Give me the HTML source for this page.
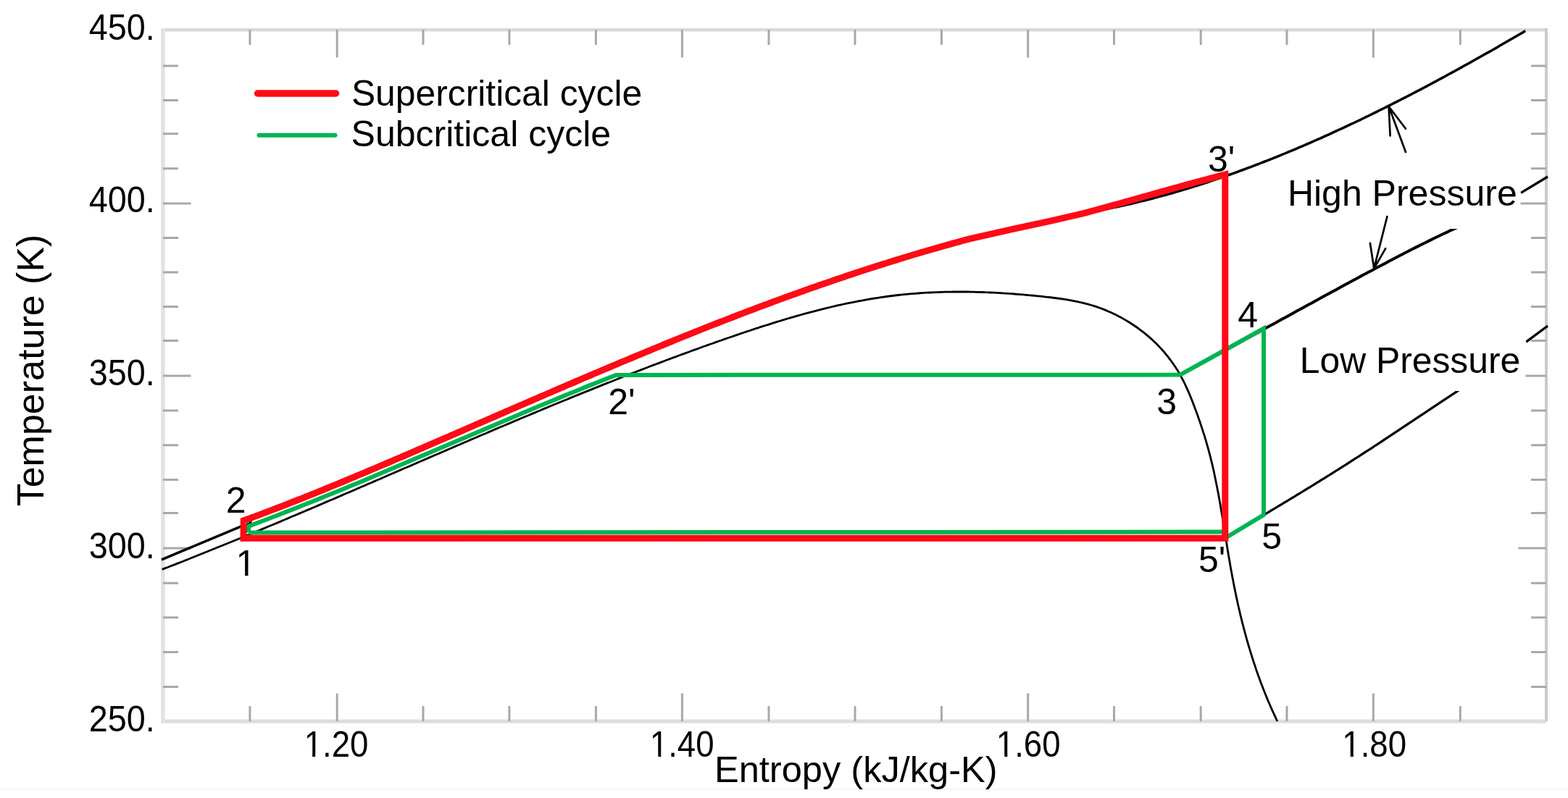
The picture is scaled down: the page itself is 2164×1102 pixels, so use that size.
<!DOCTYPE html>
<html><head><meta charset="utf-8"><title>T-s diagram</title>
<style>html,body{margin:0;padding:0;background:#fff;}body{width:2164px;height:1102px;overflow:hidden;}svg{display:block;}</style>
</head><body>
<div id="c"><svg width="2164" height="1102" viewBox="0 0 2164 1102">
<rect x="0" y="0" width="2164" height="1102" fill="#ffffff"/>
<line x1="0" y1="1090" x2="2164" y2="1090" stroke="#f6f6f6" stroke-width="2"/>
<path d="M222.3,41.3 H2136" stroke="#dadada" stroke-width="4.6" fill="none"/>
<path d="M222.3,996.1 H2134" stroke="#dedede" stroke-width="5.2" fill="none"/>
<path d="M224.9,39 V998.7" stroke="#e2e2e2" stroke-width="5.4" fill="none"/>
<path d="M2134,39 V996" stroke="#cbcbcb" stroke-width="4" fill="none"/>
<path d="M344.9,996v-21M344.9,41v21M465.2,996v-38.5M465.2,41v38.5M584.0,996v-21M584.0,41v21M702.9,996v-21M702.9,41v21M822.4,996v-21M822.4,41v21M941.4,996v-38.5M941.4,41v38.5M1061.0,996v-21M1061.0,41v21M1180.0,996v-21M1180.0,41v21M1299.4,996v-21M1299.4,41v21M1418.7,996v-38.5M1418.7,41v38.5M1537.5,996v-21M1537.5,41v21M1657.2,996v-21M1657.2,41v21M1776.0,996v-21M1776.0,41v21M1895.3,996v-38.5M1895.3,41v38.5M2015.3,996v-21M2015.3,41v21M225,90.9h21M2134,90.9h-21M225,138.6h21M2134,138.6h-21M225,184.8h21M2134,184.8h-21M225,232.8h21M2134,232.8h-21M225,281.0h38.5M2134,281.0h-38.5M225,328.5h21M2134,328.5h-21M225,376.0h21M2134,376.0h-21M225,423.5h21M2134,423.5h-21M225,470.6h21M2134,470.6h-21M225,519.0h38.5M2134,519.0h-38.5M225,567.0h21M2134,567.0h-21M225,614.8h21M2134,614.8h-21M225,662.6h21M2134,662.6h-21M225,708.6h21M2134,708.6h-21M225,757.0h38.5M2134,757.0h-38.5M225,805.2h21M2134,805.2h-21M225,852.8h21M2134,852.8h-21M225,900.6h21M2134,900.6h-21M225,948.6h21M2134,948.6h-21" stroke="#a8a8a8" stroke-width="3.0" fill="none"/>
<path d="M223.7,786.4 L227.4,784.9 L231.2,783.5 L234.9,782.0 L238.6,780.6 L242.4,779.1 L246.1,777.6 L249.8,776.2 L253.6,774.7 L257.3,773.2 L261.0,771.8 L264.7,770.3 L268.5,768.8 L272.2,767.3 L275.9,765.8 L279.6,764.3 L283.4,762.8 L287.1,761.3 L290.8,759.8 L294.5,758.3 L298.2,756.8 L301.9,755.3 L305.7,753.8 L309.4,752.3 L313.1,750.8 L316.8,749.3 L320.5,747.8 L324.2,746.2 L327.9,744.7 L331.6,743.2 L335.3,741.7 L339.1,740.1 L342.8,738.6 L346.5,737.1 L350.2,735.5 L353.9,734.0 L357.6,732.5 L361.3,730.9 L365.0,729.4 L368.7,727.8 L372.4,726.3 L376.1,724.7 L379.8,723.2 L383.5,721.6 L387.2,720.1 L390.9,718.5 L394.6,717.0 L398.3,715.4 L401.9,713.8 L405.6,712.3 L409.3,710.7 L413.0,709.1 L416.7,707.6 L420.4,706.0 L424.1,704.4 L427.8,702.9 L431.5,701.3 L435.2,699.7 L438.9,698.1 L442.5,696.6 L446.2,695.0 L449.9,693.4 L453.6,691.8 L457.3,690.3 L461.0,688.7 L464.7,687.1 L468.4,685.5 L472.0,683.9 L475.7,682.3 L479.4,680.8 L483.1,679.2 L486.8,677.6 L490.5,676.0 L494.1,674.4 L497.8,672.8 L501.5,671.2 L505.2,669.6 L508.9,668.0 L512.6,666.5 L516.2,664.9 L519.9,663.3 L523.6,661.7 L527.3,660.1 L531.0,658.5 L534.7,656.9 L538.3,655.3 L542.0,653.7 L545.7,652.1 L549.4,650.5 L553.1,648.9 L556.7,647.3 L560.4,645.8 L564.1,644.2 L567.8,642.6 L571.5,641.0 L575.2,639.4 L578.8,637.8 L582.5,636.2 L586.2,634.6 L589.9,633.0 L593.6,631.4 L597.3,629.8 L600.9,628.2 L604.6,626.7 L608.3,625.1 L612.0,623.5 L615.7,621.9 L619.4,620.3 L623.0,618.7 L626.7,617.1 L630.4,615.5 L634.1,614.0 L637.8,612.4 L641.5,610.8 L645.2,609.2 L648.8,607.6 L652.5,606.0 L656.2,604.5 L659.9,602.9 L663.6,601.3 L667.3,599.7 L671.0,598.2 L674.7,596.6 L678.4,595.0 L682.0,593.4 L685.7,591.9 L689.4,590.3 L693.1,588.7 L696.8,587.2 L700.5,585.6 L704.2,584.1 L707.9,582.5 L711.6,580.9 L715.3,579.4 L719.0,577.8 L722.7,576.3 L726.4,574.7 L730.1,573.2 L733.8,571.6 L737.5,570.1 L741.2,568.5 L744.9,567.0 L748.6,565.4 L752.3,563.9 L756.0,562.4 L759.7,560.8 L763.4,559.3 L767.1,557.8 L770.8,556.2 L774.5,554.7 L778.2,553.2 L782.0,551.7 L785.7,550.1 L789.4,548.6 L793.1,547.1 L796.8,545.6 L800.5,544.1 L804.2,542.6 L808.0,541.1 L811.7,539.6 L815.4,538.1 L819.1,536.6 L822.8,535.1 L826.6,533.6 L830.3,532.1 L834.0,530.6 L837.7,529.1 L841.5,527.7 L845.2,526.2 L848.9,524.7 L852.6,523.2 L856.4,521.8 L860.1,520.3 L863.8,518.8 L867.6,517.4 L871.3,515.9 L875.0,514.5 L878.8,513.0 L882.5,511.6 L886.3,510.1 L890.0,508.7 L893.8,507.3 L897.5,505.8 L901.3,504.4 L905.0,503.0 L908.7,501.6 L912.5,500.1 L916.3,498.7 L920.0,497.3 L923.8,495.9 L927.5,494.5 L931.3,493.1 L935.0,491.7 L938.8,490.3 L942.6,488.9 L946.3,487.6 L950.1,486.2 L953.9,484.8 L957.6,483.4 L961.4,482.1 L965.2,480.7 L968.9,479.3 L972.7,478.0 L976.5,476.6 L980.3,475.3 L984.1,474.0 L987.8,472.6 L991.6,471.3 L995.4,470.0 L999.2,468.6 L1003.0,467.3 L1006.8,466.0 L1010.6,464.7 L1014.4,463.4 L1018.2,462.1 L1022.0,460.8 L1025.8,459.5 L1029.6,458.2 L1033.4,457.0 L1037.2,455.7 L1041.0,454.4 L1044.8,453.2 L1048.6,451.9 L1052.4,450.7 L1056.3,449.5 L1060.1,448.3 L1063.9,447.1 L1067.7,445.9 L1071.6,444.7 L1075.4,443.5 L1079.2,442.3 L1083.1,441.2 L1086.9,440.0 L1090.7,438.9 L1094.6,437.8 L1098.4,436.7 L1102.3,435.6 L1106.1,434.5 L1110.0,433.4 L1113.9,432.4 L1117.7,431.3 L1121.6,430.3 L1125.5,429.3 L1129.3,428.3 L1133.2,427.3 L1137.1,426.3 L1141.0,425.4 L1144.9,424.5 L1148.7,423.5 L1152.6,422.6 L1156.5,421.7 L1160.4,420.9 L1164.3,420.0 L1168.2,419.2 L1172.2,418.4 L1176.1,417.6 L1180.0,416.8 L1183.9,416.0 L1187.8,415.3 L1191.8,414.6 L1195.7,413.9 L1199.6,413.2 L1203.6,412.5 L1207.5,411.9 L1211.5,411.3 L1215.4,410.7 L1219.4,410.1 L1223.4,409.5 L1227.3,409.0 L1231.3,408.5 L1235.3,408.0 L1239.3,407.5 L1243.2,407.1 L1247.2,406.7 L1251.2,406.3 L1255.2,405.9 L1259.2,405.6 L1263.2,405.3 L1267.2,405.0 L1271.3,404.7 L1275.3,404.4 L1279.3,404.2 L1283.3,404.0 L1287.3,403.8 L1291.4,403.6 L1295.4,403.5 L1299.4,403.3 L1303.4,403.2 L1307.5,403.1 L1311.5,403.1 L1315.6,403.0 L1319.6,403.0 L1323.6,403.0 L1327.7,403.0 L1331.7,403.0 L1335.7,403.0 L1339.8,403.1 L1343.8,403.2 L1347.8,403.3 L1351.9,403.4 L1355.9,403.5 L1360.0,403.7 L1364.0,403.8 L1368.0,404.0 L1372.0,404.2 L1376.1,404.4 L1380.1,404.6 L1384.1,404.9 L1388.1,405.1 L1392.2,405.4 L1396.2,405.7 L1400.2,406.0 L1404.2,406.3 L1408.2,406.6 L1412.2,406.9 L1416.2,407.3 L1420.2,407.7 L1424.2,408.0 L1428.2,408.4 L1432.1,408.8 L1436.1,409.2 L1440.1,409.6 L1444.0,410.1 L1448.0,410.5 L1451.9,411.0 L1455.9,411.5 L1459.8,412.0 L1463.8,412.5 L1467.7,413.1 L1471.6,413.7 L1475.5,414.4 L1479.4,415.1 L1483.3,415.8 L1487.2,416.6 L1491.0,417.5 L1494.9,418.4 L1498.7,419.3 L1502.6,420.4 L1506.4,421.5 L1510.2,422.6 L1514.0,423.9 L1517.8,425.2 L1521.6,426.6 L1525.3,428.1 L1529.0,429.7 L1532.7,431.3 L1536.4,433.0 L1540.1,434.8 L1543.7,436.7 L1547.3,438.6 L1550.9,440.6 L1554.4,442.6 L1557.9,444.8 L1561.4,447.0 L1564.8,449.2 L1568.2,451.5 L1571.5,453.9 L1574.7,456.3 L1578.0,458.8 L1581.1,461.4 L1584.2,463.9 L1587.3,466.6 L1590.3,469.3 L1593.2,472.0 L1596.1,474.8 L1598.9,477.7 L1601.6,480.6 L1604.3,483.5 L1606.9,486.5 L1609.4,489.6 L1611.9,492.6 L1614.3,495.8 L1616.7,499.0 L1619.0,502.2 L1621.2,505.5 L1623.4,508.8 L1625.5,512.1 L1627.5,515.5 L1629.4,519.0 L1631.3,522.5 L1633.2,526.0 L1634.9,529.5 L1636.6,533.1 L1638.3,536.8 L1639.9,540.4 L1641.5,544.1 L1643.0,547.8 L1644.5,551.5 L1646.0,555.3 L1647.4,559.0 L1648.8,562.8 L1650.2,566.6 L1651.6,570.3 L1653.0,574.1 L1654.3,577.9 L1655.7,581.7 L1657.0,585.6 L1658.2,589.4 L1659.5,593.2 L1660.7,597.1 L1662.0,600.9 L1663.1,604.7 L1664.3,608.6 L1665.4,612.5 L1666.5,616.3 L1667.6,620.2 L1668.6,624.1 L1669.7,628.0 L1670.7,631.9 L1671.6,635.8 L1672.6,639.7 L1673.5,643.6 L1674.4,647.5 L1675.3,651.4 L1676.1,655.3 L1676.9,659.2 L1677.7,663.1 L1678.5,667.0 L1679.3,671.0 L1680.1,674.9 L1680.8,678.8 L1681.6,682.8 L1682.3,686.7 L1683.0,690.7 L1683.7,694.6 L1684.4,698.5 L1685.0,702.5 L1685.7,706.4 L1686.4,710.4 L1687.0,714.3 L1687.7,718.3 L1688.3,722.2 L1688.9,726.2 L1689.6,730.2 L1690.2,734.1 L1690.9,738.1 L1691.5,742.0 L1692.1,746.0 L1692.8,749.9 L1693.4,753.9 L1694.0,757.9 L1694.7,761.8 L1695.3,765.8 L1696.0,769.7 L1696.7,773.7 L1697.4,777.6 L1698.0,781.6 L1698.7,785.5 L1699.5,789.5 L1700.2,793.4 L1700.9,797.4 L1701.7,801.3 L1702.4,805.2 L1703.2,809.2 L1704.0,813.1 L1704.8,817.0 L1705.6,821.0 L1706.4,824.9 L1707.3,828.8 L1708.1,832.7 L1709.0,836.7 L1709.9,840.6 L1710.8,844.5 L1711.7,848.4 L1712.7,852.3 L1713.6,856.2 L1714.6,860.1 L1715.6,863.9 L1716.6,867.8 L1717.6,871.7 L1718.7,875.6 L1719.7,879.4 L1720.8,883.3 L1721.9,887.2 L1723.0,891.0 L1724.2,894.9 L1725.3,898.7 L1726.5,902.5 L1727.7,906.4 L1728.9,910.2 L1730.1,914.0 L1731.4,917.8 L1732.7,921.6 L1733.9,925.4 L1735.3,929.2 L1736.6,933.0 L1738.0,936.7 L1739.3,940.5 L1740.7,944.3 L1742.2,948.0 L1743.6,951.8 L1745.1,955.5 L1746.6,959.2 L1748.1,962.9 L1749.6,966.6 L1751.2,970.3 L1752.8,974.0 L1754.4,977.7 L1756.0,981.4 L1757.7,985.0 L1759.4,988.7 L1761.1,992.3 L1762.8,996.0" stroke="#000" stroke-width="2.8" fill="none" stroke-linejoin="round"/>
<path d="M223.0,772.8 L331.6,727.4 L345.0,723.0 L347.5,714.8 L351.3,713.4 L355.1,712.0 L358.8,710.6 L362.6,709.1 L366.4,707.7 L370.2,706.3 L373.9,704.9 L377.7,703.4 L381.4,702.0 L385.2,700.5 L389.0,699.1 L392.7,697.6 L396.5,696.2 L400.2,694.7 L404.0,693.2 L407.7,691.8 L411.5,690.3 L415.2,688.8 L418.9,687.3 L422.7,685.8 L426.4,684.3 L430.2,682.8 L433.9,681.3 L437.6,679.8 L441.4,678.3 L445.1,676.8 L448.8,675.2 L452.6,673.7 L456.3,672.2 L460.0,670.7 L463.7,669.1 L467.5,667.6 L471.2,666.0 L474.9,664.5 L478.6,663.0 L482.3,661.4 L486.0,659.9 L489.8,658.3 L493.5,656.7 L497.2,655.2 L500.9,653.6 L504.6,652.1 L508.3,650.5 L512.0,648.9 L515.8,647.4 L519.5,645.8 L523.2,644.2 L526.9,642.6 L530.6,641.1 L534.3,639.5 L538.0,637.9 L541.7,636.3 L545.4,634.7 L549.1,633.2 L552.8,631.6 L556.5,630.0 L560.2,628.4 L563.9,626.8 L567.6,625.2 L571.3,623.6 L575.0,622.0 L578.7,620.4 L582.4,618.8 L586.1,617.2 L589.8,615.6 L593.5,614.0 L597.2,612.4 L600.9,610.8 L604.6,609.2 L608.3,607.6 L612.0,606.0 L615.7,604.4 L619.4,602.8 L623.1,601.2 L626.8,599.6 L630.5,598.0 L634.2,596.4 L637.9,594.8 L641.6,593.2 L645.3,591.5 L649.0,589.9 L652.6,588.3 L656.3,586.7 L660.0,585.1 L663.7,583.5 L667.4,581.9 L671.1,580.3 L674.8,578.7 L678.5,577.1 L682.2,575.5 L685.9,573.9 L689.6,572.2 L693.3,570.6 L697.0,569.0 L700.7,567.4 L704.4,565.8 L708.1,564.2 L711.8,562.6 L715.5,561.0 L719.2,559.4 L722.9,557.8 L726.6,556.2 L730.3,554.6 L734.0,553.0 L737.7,551.4 L741.4,549.8 L745.1,548.2 L748.8,546.6 L752.4,545.0 L756.2,543.4 L759.9,541.8 L763.6,540.2 L767.3,538.6 L771.0,537.0 L774.7,535.4 L778.4,533.8 L782.1,532.2 L785.8,530.7 L789.5,529.1 L793.2,527.5 L796.9,525.9 L800.6,524.3 L804.3,522.7 L808.0,521.2 L811.7,519.6 L815.4,518.0 L819.1,516.4 L822.8,514.9 L826.5,513.3 L830.3,511.7 L834.0,510.1 L837.7,508.6 L841.4,507.0 L845.1,505.4 L848.8,503.9 L852.5,502.3 L856.2,500.7 L860.0,499.2 L863.7,497.6 L867.4,496.1 L871.1,494.5 L874.8,493.0 L878.5,491.4 L882.3,489.9 L886.0,488.3 L889.7,486.8 L893.4,485.2 L897.2,483.7 L900.9,482.2 L904.6,480.6 L908.3,479.1 L912.1,477.6 L915.8,476.0 L919.5,474.5 L923.2,473.0 L927.0,471.5 L930.7,469.9 L934.4,468.4 L938.2,466.9 L941.9,465.4 L945.6,463.9 L949.4,462.4 L953.1,460.9 L956.9,459.4 L960.6,457.9 L964.3,456.4 L968.1,454.9 L971.8,453.4 L975.6,451.9 L979.3,450.4 L983.1,448.9 L986.8,447.5 L990.6,446.0 L994.3,444.5 L998.1,443.1 L1001.8,441.6 L1005.6,440.1 L1009.3,438.7 L1013.1,437.2 L1016.8,435.8 L1020.6,434.3 L1024.4,432.9 L1028.1,431.4 L1031.9,430.0 L1035.7,428.6 L1039.4,427.2 L1043.2,425.7 L1047.0,424.3 L1050.7,422.9 L1054.5,421.5 L1058.3,420.1 L1062.1,418.7 L1065.8,417.3 L1069.6,415.9 L1073.4,414.5 L1077.2,413.1 L1081.0,411.7 L1084.7,410.3 L1088.5,409.0 L1092.3,407.6 L1096.1,406.2 L1099.9,404.9 L1103.7,403.5 L1107.5,402.2 L1111.3,400.8 L1115.1,399.5 L1118.9,398.1 L1122.7,396.8 L1126.5,395.5 L1130.3,394.1 L1134.1,392.8 L1137.9,391.5 L1141.7,390.2 L1145.5,388.9 L1149.3,387.6 L1153.1,386.3 L1156.9,385.0 L1160.8,383.7 L1164.6,382.4 L1168.4,381.1 L1172.2,379.8 L1176.0,378.6 L1179.9,377.3 L1183.7,376.0 L1187.5,374.8 L1191.3,373.5 L1195.2,372.3 L1199.0,371.0 L1202.8,369.8 L1206.7,368.6 L1210.5,367.3 L1214.4,366.1 L1218.2,364.9 L1222.0,363.7 L1225.9,362.5 L1229.7,361.3 L1233.6,360.1 L1237.4,358.9 L1241.3,357.7 L1245.1,356.5 L1249.0,355.3 L1252.8,354.2 L1256.7,353.0 L1260.6,351.8 L1264.4,350.7 L1268.3,349.5 L1272.1,348.4 L1276.0,347.3 L1279.9,346.1 L1283.8,345.0 L1287.6,343.9 L1291.5,342.8 L1295.4,341.7 L1299.2,340.6 L1303.1,339.5 L1307.0,338.4 L1310.9,337.3 L1314.8,336.2 L1318.7,335.1 L1322.6,334.1 L1326.4,333.0 L1330.3,331.9 L1334.2,330.9 L1338.1,329.8 L1400.0,315.8 L1450.0,305.2 L1490.0,295.9 L1495.2,294.6 L1500.0,293.7 L1504.0,293.0 L1508.0,292.3 L1512.0,291.6 L1515.9,290.8 L1519.9,290.1 L1523.9,289.3 L1527.9,288.5 L1531.8,287.7 L1535.8,286.9 L1539.8,286.1 L1543.7,285.2 L1547.7,284.4 L1551.6,283.5 L1555.6,282.6 L1559.5,281.7 L1563.5,280.8 L1567.4,279.8 L1571.3,278.9 L1575.3,277.9 L1579.2,277.0 L1583.1,276.0 L1587.0,275.0 L1590.9,274.0 L1594.8,272.9 L1598.7,271.9 L1602.6,270.8 L1606.5,269.8 L1610.4,268.7 L1614.3,267.6 L1618.2,266.5 L1622.1,265.4 L1625.9,264.2 L1629.8,263.1 L1633.7,261.9 L1637.5,260.8 L1641.4,259.6 L1645.3,258.4 L1649.1,257.2 L1653.0,256.0 L1656.8,254.8 L1660.7,253.5 L1664.5,252.3 L1668.3,251.0 L1672.2,249.7 L1676.0,248.4 L1679.8,247.2 L1683.6,245.8 L1687.5,244.5 L1691.3,243.2 L1695.1,241.9 L1698.9,240.5 L1702.7,239.2 L1706.5,237.8 L1710.3,236.4 L1714.1,235.0 L1717.9,233.6 L1721.7,232.2 L1725.4,230.8 L1729.2,229.4 L1733.0,227.9 L1736.8,226.5 L1740.5,225.0 L1744.3,223.5 L1748.1,222.1 L1751.8,220.6 L1755.6,219.1 L1759.3,217.6 L1763.1,216.1 L1766.8,214.6 L1770.6,213.0 L1774.3,211.5 L1778.0,209.9 L1781.8,208.4 L1785.5,206.8 L1789.2,205.3 L1792.9,203.7 L1796.7,202.1 L1800.4,200.5 L1804.1,198.9 L1807.8,197.3 L1811.5,195.7 L1815.2,194.0 L1818.9,192.4 L1822.6,190.8 L1826.3,189.1 L1830.0,187.4 L1833.7,185.8 L1837.3,184.1 L1841.0,182.4 L1844.7,180.7 L1848.4,179.0 L1852.0,177.3 L1855.7,175.6 L1859.4,173.9 L1863.0,172.2 L1866.7,170.5 L1870.4,168.7 L1874.0,167.0 L1877.7,165.3 L1881.3,163.5 L1884.9,161.7 L1888.6,160.0 L1892.2,158.2 L1895.9,156.4 L1899.5,154.6 L1903.1,152.8 L1906.7,151.0 L1910.4,149.2 L1914.0,147.4 L1917.6,145.6 L1921.2,143.8 L1924.8,141.9 L1928.4,140.1 L1932.0,138.3 L1935.6,136.4 L1939.2,134.6 L1942.8,132.7 L1946.4,130.9 L1950.0,129.0 L1953.6,127.1 L1957.2,125.2 L1960.8,123.4 L1964.3,121.5 L1967.9,119.6 L1971.5,117.7 L1975.1,115.8 L1978.6,113.9 L1982.2,112.0 L1985.7,110.0 L1989.3,108.1 L1992.9,106.2 L1996.4,104.3 L2000.0,102.3 L2003.5,100.4 L2007.1,98.5 L2010.6,96.5 L2014.1,94.6 L2017.7,92.6 L2021.2,90.6 L2024.7,88.7 L2028.3,86.7 L2031.8,84.7 L2035.3,82.8 L2038.8,80.8 L2042.4,78.8 L2045.9,76.8 L2049.4,74.8 L2052.9,72.9 L2056.4,70.9 L2059.9,68.9 L2063.4,66.9 L2066.9,64.9 L2070.4,62.8 L2073.9,60.8 L2077.4,58.8 L2080.9,56.8 L2084.4,54.8 L2087.9,52.8 L2091.3,50.7 L2094.8,48.7 L2098.3,46.7 L2101.8,44.7 L2105.2,42.6" stroke="#000" stroke-width="3.5" fill="none" stroke-linejoin="round"/>
<path d="M1628.6,517.4 L1632.2,515.5 L1635.8,513.6 L1639.3,511.7 L1642.9,509.8 L1646.5,507.8 L1650.1,505.9 L1653.6,504.0 L1657.2,502.1 L1660.8,500.2 L1664.3,498.2 L1667.9,496.3 L1671.5,494.4 L1675.0,492.4 L1678.6,490.5 L1682.2,488.6 L1685.7,486.6 L1689.3,484.7 L1692.9,482.8 L1696.4,480.8 L1700.0,478.9 L1703.5,476.9 L1707.1,475.0 L1710.7,473.0 L1714.2,471.1 L1717.8,469.1 L1721.3,467.2 L1724.9,465.2 L1728.5,463.3 L1732.0,461.3 L1735.6,459.4 L1739.1,457.4 L1742.7,455.5 L1746.2,453.5 L1749.8,451.6 L1753.4,449.6 L1756.9,447.7 L1760.5,445.7 L1764.0,443.7 L1767.6,441.8 L1771.1,439.8 L1774.7,437.9 L1778.2,435.9 L1781.8,434.0 L1785.4,432.0 L1788.9,430.1 L1792.5,428.1 L1796.0,426.2 L1799.6,424.2 L1803.1,422.3 L1806.7,420.3 L1810.3,418.4 L1813.8,416.4 L1817.4,414.5 L1820.9,412.5 L1824.5,410.6 L1828.1,408.6 L1831.6,406.7 L1835.2,404.7 L1838.7,402.8 L1842.3,400.9 L1845.9,398.9 L1849.4,397.0 L1853.0,395.0 L1856.6,393.1 L1860.1,391.2 L1863.7,389.3 L1867.3,387.3 L1870.8,385.4 L1874.4,383.5 L1878.0,381.5 L1881.5,379.6 L1885.1,377.7 L1888.7,375.8 L1892.3,373.9 L1895.9,372.0 L1899.4,370.1 L1903.0,368.2 L1906.6,366.3 L1910.2,364.4 L1913.8,362.5 L1917.3,360.6 L1920.9,358.7 L1924.5,356.8 L1928.1,354.9 L1931.7,353.0 L1935.3,351.2 L1938.9,349.3 L1942.5,347.5 L1946.1,345.6 L1949.7,343.8 L1953.4,341.9 L1957.0,340.1 L1960.6,338.3 L1964.2,336.5 L1967.9,334.7 L1971.5,332.9 L1975.1,331.1 L1978.8,329.3 L1982.4,327.5 L1986.1,325.8 L1989.7,324.0 L1993.4,322.3 L1997.1,320.6 L2000.7,318.8 L2004.4,317.1 L2008.1,315.4 L2011.8,313.8" stroke="#000" stroke-width="4" fill="none"/>
<path d="M1692.0,742.0 L1695.5,739.9 L1699.0,737.9 L1702.5,735.8 L1706.0,733.7 L1709.5,731.7 L1713.0,729.6 L1716.5,727.6 L1720.0,725.5 L1723.5,723.4 L1727.0,721.3 L1730.5,719.3 L1734.0,717.2 L1737.5,715.1 L1741.0,713.0 L1744.5,711.0 L1748.0,708.9 L1751.5,706.8 L1754.9,704.7 L1758.4,702.6 L1761.9,700.5 L1765.4,698.4 L1768.9,696.3 L1772.4,694.2 L1775.8,692.1 L1779.3,690.0 L1782.8,687.9 L1786.3,685.8 L1789.7,683.7 L1793.2,681.6 L1796.7,679.5 L1800.1,677.3 L1803.6,675.2 L1807.1,673.1 L1810.5,671.0 L1814.0,668.8 L1817.4,666.7 L1820.9,664.6 L1824.3,662.4 L1827.8,660.3 L1831.2,658.1 L1834.7,656.0 L1838.1,653.8 L1841.6,651.6 L1845.0,649.5 L1848.4,647.3 L1851.9,645.1 L1855.3,643.0 L1858.7,640.8 L1862.1,638.6 L1865.6,636.4 L1869.0,634.2 L1872.4,632.0 L1875.8,629.8 L1879.2,627.6 L1882.6,625.4 L1886.1,623.2 L1889.5,621.0 L1892.9,618.8 L1896.3,616.5 L1899.7,614.3 L1903.1,612.1 L1906.5,609.8 L1909.8,607.6 L1913.2,605.4 L1916.6,603.1 L1920.0,600.9 L1923.4,598.6 L1926.8,596.4 L1930.2,594.1 L1933.5,591.9 L1936.9,589.6 L1940.3,587.4 L1943.7,585.1 L1947.1,582.9 L1950.5,580.6 L1953.8,578.4 L1957.2,576.1 L1960.6,573.9 L1964.0,571.6 L1967.4,569.4 L1970.7,567.1 L1974.1,564.9 L1977.5,562.6 L1980.9,560.4 L1984.3,558.1 L1987.6,555.9 L1991.0,553.6 L1994.4,551.4 L1997.8,549.1 L2001.2,546.9 L2004.6,544.7 L2008.0,542.4 L2011.4,540.2 L2014.8,538.0" stroke="#000" stroke-width="3.2" fill="none"/>
<path d="M2098.9,266.4 L2136,244 M2106.3,472.2 L2136,450" stroke="#000" stroke-width="3.4" fill="none"/>
<rect x="1772" y="236" width="326.5" height="80" fill="#fff"/>
<rect x="1790" y="466" width="315.5" height="74" fill="#fff"/>
<polyline points="343.0,735.6 343.1,726.7 356.3,721.8 369.4,716.8 382.5,711.7 395.6,706.6 408.7,701.5 421.8,696.3 434.8,691.1 447.9,685.8 460.9,680.5 473.9,675.2 486.9,669.8 499.9,664.4 512.9,659.0 525.8,653.6 538.8,648.1 551.7,642.6 564.7,637.1 577.6,631.6 590.6,626.1 603.5,620.6 616.4,615.1 629.4,609.5 642.3,604.0 655.2,598.5 668.2,593.0 681.1,587.4 694.0,581.9 707.0,576.5 719.9,571.0 732.9,565.5 745.9,560.1 758.9,554.7 771.9,549.4 784.9,544.0 797.9,538.7 810.9,533.4 824.0,528.2 837.1,523.0 850.1,517.9 1628.7,517.6 1687.7,485.0 1744.0,453.5 1744.0,711.0 1691.0,743.0" stroke="#00b451" stroke-width="6" fill="none" stroke-linejoin="miter"/>
<polyline points="1691,734.6 343,735.6" stroke="#00b451" stroke-width="6" fill="none"/>
<polygon points="336.0,743.3 336.2,718.9 340.0,717.5 343.7,716.2 347.5,714.8 351.3,713.4 355.1,712.0 358.8,710.6 362.6,709.1 366.4,707.7 370.2,706.3 373.9,704.9 377.7,703.4 381.4,702.0 385.2,700.5 389.0,699.1 392.7,697.6 396.5,696.2 400.2,694.7 404.0,693.2 407.7,691.8 411.5,690.3 415.2,688.8 418.9,687.3 422.7,685.8 426.4,684.3 430.2,682.8 433.9,681.3 437.6,679.8 441.4,678.3 445.1,676.8 448.8,675.2 452.6,673.7 456.3,672.2 460.0,670.7 463.7,669.1 467.5,667.6 471.2,666.0 474.9,664.5 478.6,663.0 482.3,661.4 486.0,659.9 489.8,658.3 493.5,656.7 497.2,655.2 500.9,653.6 504.6,652.1 508.3,650.5 512.0,648.9 515.8,647.4 519.5,645.8 523.2,644.2 526.9,642.6 530.6,641.1 534.3,639.5 538.0,637.9 541.7,636.3 545.4,634.7 549.1,633.2 552.8,631.6 556.5,630.0 560.2,628.4 563.9,626.8 567.6,625.2 571.3,623.6 575.0,622.0 578.7,620.4 582.4,618.8 586.1,617.2 589.8,615.6 593.5,614.0 597.2,612.4 600.9,610.8 604.6,609.2 608.3,607.6 612.0,606.0 615.7,604.4 619.4,602.8 623.1,601.2 626.8,599.6 630.5,598.0 634.2,596.4 637.9,594.8 641.6,593.2 645.3,591.5 649.0,589.9 652.6,588.3 656.3,586.7 660.0,585.1 663.7,583.5 667.4,581.9 671.1,580.3 674.8,578.7 678.5,577.1 682.2,575.5 685.9,573.9 689.6,572.2 693.3,570.6 697.0,569.0 700.7,567.4 704.4,565.8 708.1,564.2 711.8,562.6 715.5,561.0 719.2,559.4 722.9,557.8 726.6,556.2 730.3,554.6 734.0,553.0 737.7,551.4 741.4,549.8 745.1,548.2 748.8,546.6 752.4,545.0 756.2,543.4 759.9,541.8 763.6,540.2 767.3,538.6 771.0,537.0 774.7,535.4 778.4,533.8 782.1,532.2 785.8,530.7 789.5,529.1 793.2,527.5 796.9,525.9 800.6,524.3 804.3,522.7 808.0,521.2 811.7,519.6 815.4,518.0 819.1,516.4 822.8,514.9 826.5,513.3 830.3,511.7 834.0,510.1 837.7,508.6 841.4,507.0 845.1,505.4 848.8,503.9 852.5,502.3 856.2,500.7 860.0,499.2 863.7,497.6 867.4,496.1 871.1,494.5 874.8,493.0 878.5,491.4 882.3,489.9 886.0,488.3 889.7,486.8 893.4,485.2 897.2,483.7 900.9,482.2 904.6,480.6 908.3,479.1 912.1,477.6 915.8,476.0 919.5,474.5 923.2,473.0 927.0,471.5 930.7,469.9 934.4,468.4 938.2,466.9 941.9,465.4 945.6,463.9 949.4,462.4 953.1,460.9 956.9,459.4 960.6,457.9 964.3,456.4 968.1,454.9 971.8,453.4 975.6,451.9 979.3,450.4 983.1,448.9 986.8,447.5 990.6,446.0 994.3,444.5 998.1,443.1 1001.8,441.6 1005.6,440.1 1009.3,438.7 1013.1,437.2 1016.8,435.8 1020.6,434.3 1024.4,432.9 1028.1,431.4 1031.9,430.0 1035.7,428.6 1039.4,427.2 1043.2,425.7 1047.0,424.3 1050.7,422.9 1054.5,421.5 1058.3,420.1 1062.1,418.7 1065.8,417.3 1069.6,415.9 1073.4,414.5 1077.2,413.1 1081.0,411.7 1084.7,410.3 1088.5,409.0 1092.3,407.6 1096.1,406.2 1099.9,404.9 1103.7,403.5 1107.5,402.2 1111.3,400.8 1115.1,399.5 1118.9,398.1 1122.7,396.8 1126.5,395.5 1130.3,394.1 1134.1,392.8 1137.9,391.5 1141.7,390.2 1145.5,388.9 1149.3,387.6 1153.1,386.3 1156.9,385.0 1160.8,383.7 1164.6,382.4 1168.4,381.1 1172.2,379.8 1176.0,378.6 1179.9,377.3 1183.7,376.0 1187.5,374.8 1191.3,373.5 1195.2,372.3 1199.0,371.0 1202.8,369.8 1206.7,368.6 1210.5,367.3 1214.4,366.1 1218.2,364.9 1222.0,363.7 1225.9,362.5 1229.7,361.3 1233.6,360.1 1237.4,358.9 1241.3,357.7 1245.1,356.5 1249.0,355.3 1252.8,354.2 1256.7,353.0 1260.6,351.8 1264.4,350.7 1268.3,349.5 1272.1,348.4 1276.0,347.3 1279.9,346.1 1283.8,345.0 1287.6,343.9 1291.5,342.8 1295.4,341.7 1299.2,340.6 1303.1,339.5 1307.0,338.4 1310.9,337.3 1314.8,336.2 1318.7,335.1 1322.6,334.1 1326.4,333.0 1330.3,331.9 1334.2,330.9 1338.1,329.8 1400.0,315.8 1450.0,305.2 1490.0,295.9 1495.2,294.6 1500.3,293.3 1505.5,291.9 1510.6,290.5 1515.8,289.1 1520.9,287.7 1526.1,286.3 1531.2,284.8 1536.4,283.4 1541.5,282.0 1546.7,280.6 1551.8,279.1 1557.0,277.7 1562.1,276.2 1567.2,274.8 1572.4,273.4 1577.5,271.9 1582.6,270.5 1587.8,269.0 1592.9,267.6 1598.1,266.1 1603.2,264.7 1608.3,263.3 1613.5,261.8 1618.6,260.4 1623.8,259.0 1628.9,257.6 1634.1,256.1 1639.2,254.7 1644.4,253.3 1649.5,251.9 1654.7,250.5 1659.8,249.1 1665.0,247.8 1670.1,246.4 1675.3,245.0 1680.5,243.7 1685.6,242.3 1690.8,241.0 1690.8,743.3" stroke="#ff0a16" stroke-width="9" fill="none" stroke-linejoin="miter"/>
<path d="M1940,210 L1918.2,151 M1916.6,147 L1918.6,187.5 M1916.6,147 L1940,177.7" stroke="#000" stroke-width="2.7" fill="none" stroke-linecap="round"/>
<path d="M1914.4,299.1 L1896.6,369.5 M1896.3,370.8 L1890.9,335.8 M1896.3,370.8 L1912.2,343.1" stroke="#000" stroke-width="2.7" fill="none" stroke-linecap="round"/>
<line x1="355.5" y1="129" x2="463.5" y2="129" stroke="#ff0a16" stroke-width="9.5" stroke-linecap="round"/>
<line x1="357.5" y1="186.8" x2="462.5" y2="186.8" stroke="#00b451" stroke-width="6" stroke-linecap="round"/>
<text x="484.9" y="146.3" font-size="49.8" font-family="Liberation Sans, Arial, sans-serif" text-anchor="start" fill="#000"  >Supercritical cycle</text>
<text x="484.6" y="202.2" font-size="50.0" font-family="Liberation Sans, Arial, sans-serif" text-anchor="start" fill="#000"  >Subcritical cycle</text>
<text x="1776.9" y="284.4" font-size="50" font-family="Liberation Sans, Arial, sans-serif" text-anchor="start" fill="#000"  >High Pressure</text>
<text x="1793.8" y="514.7" font-size="49.8" font-family="Liberation Sans, Arial, sans-serif" text-anchor="start" fill="#000"  >Low Pressure</text>
<text x="985.9" y="1080.0" font-size="50.6" font-family="Liberation Sans, Arial, sans-serif" text-anchor="start" fill="#000"  >Entropy (kJ/kg-K)</text>
<text transform="translate(59.5,699.3) rotate(-90)" font-size="52" font-family="Liberation Sans, Arial, sans-serif" fill="#000" >Temperature (K)</text>
<text x="213.8" y="54.5" font-size="49.5" font-family="Liberation Sans, Arial, sans-serif" text-anchor="end" fill="#000"  textLength="91.0" lengthAdjust="spacingAndGlyphs">450.</text>
<text x="213.8" y="292.7" font-size="49.5" font-family="Liberation Sans, Arial, sans-serif" text-anchor="end" fill="#000"  textLength="91.0" lengthAdjust="spacingAndGlyphs">400.</text>
<text x="213.8" y="532.3" font-size="49.5" font-family="Liberation Sans, Arial, sans-serif" text-anchor="end" fill="#000"  textLength="91.0" lengthAdjust="spacingAndGlyphs">350.</text>
<text x="213.8" y="771.0" font-size="49.5" font-family="Liberation Sans, Arial, sans-serif" text-anchor="end" fill="#000"  textLength="91.0" lengthAdjust="spacingAndGlyphs">300.</text>
<text x="213.8" y="1010.0" font-size="49.5" font-family="Liberation Sans, Arial, sans-serif" text-anchor="end" fill="#000"  textLength="91.0" lengthAdjust="spacingAndGlyphs">250.</text>
<text x="464.0" y="1044.8" font-size="49.5" font-family="Liberation Sans, Arial, sans-serif" text-anchor="middle" fill="#000"  textLength="88.7" lengthAdjust="spacingAndGlyphs" mask="url(#m1)">1.20</text>
<text x="941.2" y="1044.8" font-size="49.5" font-family="Liberation Sans, Arial, sans-serif" text-anchor="middle" fill="#000"  textLength="88.7" lengthAdjust="spacingAndGlyphs" mask="url(#m1)">1.40</text>
<text x="1419.2" y="1044.8" font-size="49.5" font-family="Liberation Sans, Arial, sans-serif" text-anchor="middle" fill="#000"  textLength="88.7" lengthAdjust="spacingAndGlyphs" mask="url(#m1)">1.60</text>
<text x="1896.7" y="1044.8" font-size="49.5" font-family="Liberation Sans, Arial, sans-serif" text-anchor="middle" fill="#000"  textLength="88.7" lengthAdjust="spacingAndGlyphs" mask="url(#m1)">1.80</text>
<text x="311.8" y="708.3" font-size="50" font-family="Liberation Sans, Arial, sans-serif" text-anchor="start" fill="#000"  >2</text>
<text x="325.5" y="794.8" font-size="50" font-family="Liberation Sans, Arial, sans-serif" text-anchor="start" fill="#000"  mask="url(#m1)">1</text>
<defs><mask id="m1" maskUnits="userSpaceOnUse" x="0" y="0" width="2164" height="1102"><rect x="0" y="0" width="2164" height="1102" fill="#fff"/><rect x="422.12" y="1040.75" width="8.99" height="6.05" fill="#000"/><rect x="435.14" y="1040.75" width="8.63" height="6.05" fill="#000"/><rect x="899.32" y="1040.75" width="8.99" height="6.05" fill="#000"/><rect x="912.34" y="1040.75" width="8.63" height="6.05" fill="#000"/><rect x="1377.32" y="1040.75" width="8.99" height="6.05" fill="#000"/><rect x="1390.34" y="1040.75" width="8.63" height="6.05" fill="#000"/><rect x="1854.82" y="1040.75" width="8.99" height="6.05" fill="#000"/><rect x="1867.84" y="1040.75" width="8.63" height="6.05" fill="#000"/><rect x="328.31" y="790.71" width="9.76" height="6.09" fill="#000"/><rect x="342.49" y="790.71" width="9.37" height="6.09" fill="#000"/></mask></defs>
<text x="839.3" y="571.8" font-size="50" font-family="Liberation Sans, Arial, sans-serif" text-anchor="start" fill="#000"  >2'</text>
<text x="1596.3" y="572.3" font-size="50" font-family="Liberation Sans, Arial, sans-serif" text-anchor="start" fill="#000"  >3</text>
<text x="1667.0" y="237.3" font-size="50" font-family="Liberation Sans, Arial, sans-serif" text-anchor="start" fill="#000"  >3'</text>
<text x="1708.3" y="452.3" font-size="50" font-family="Liberation Sans, Arial, sans-serif" text-anchor="start" fill="#000"  >4</text>
<text x="1741.3" y="757.8" font-size="50" font-family="Liberation Sans, Arial, sans-serif" text-anchor="start" fill="#000"  >5</text>
<text x="1654.0" y="789.8" font-size="50" font-family="Liberation Sans, Arial, sans-serif" text-anchor="start" fill="#000"  >5'</text>
</svg></div>
</body></html>
